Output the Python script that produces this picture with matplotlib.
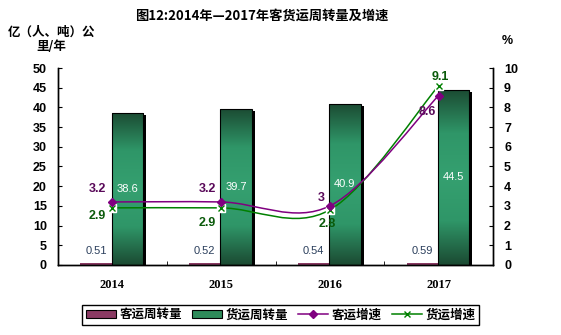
import numpy as np
import matplotlib
matplotlib.use('Agg')
import matplotlib.pyplot as plt
from matplotlib.path import Path
from matplotlib.patches import PathPatch, Patch
from matplotlib.lines import Line2D
from matplotlib.colors import LinearSegmentedColormap
import matplotlib.patheffects as pe

plt.rcParams['font.family'] = ['Noto Sans CJK SC', 'DejaVu Sans']

# 数据
years = ['2014', '2015', '2016', '2017']
passenger_turnover = [0.51, 0.52, 0.54, 0.59]   # 客运周转量
freight_turnover = [38.6, 39.7, 40.9, 44.5]     # 货运周转量
passenger_growth = [3.2, 3.2, 3.0, 8.6]         # 客运增速
freight_growth = [2.9, 2.9, 2.8, 9.1]           # 货运增速

# 标签偏移（单位 points）
pg_offsets = [(-11, 9), (-10, 9), (-6, 6), (-8, -12)]
fg_offsets = [(-11, -6), (-10, -11), (-2, -10), (1, 6)]

PURPLE = '#800080'
GREEN = '#008000'
MAROON = '#8a3a63'
BAR_GREEN = '#2e8b5a'


def smooth_path(xs, ys):
    """Excel 风格平滑曲线（Catmull-Rom 转三次贝塞尔）"""
    pts = np.column_stack([xs, ys]).astype(float)
    n = len(pts)
    verts = [pts[0]]
    codes = [Path.MOVETO]
    for i in range(n - 1):
        p0 = pts[max(i - 1, 0)]
        p1 = pts[i]
        p2 = pts[i + 1]
        p3 = pts[min(i + 2, n - 1)]
        c1 = p1 + (p2 - p0) / 6.0
        c2 = p2 - (p3 - p1) / 6.0
        verts += [c1, c2, p2]
        codes += [Path.CURVE4] * 3
    return Path(verts, codes)


def gradient_fill(ax, bars, cmap):
    grad = np.linspace(0, 1, 256).reshape(-1, 1)
    for b in bars:
        x0, y0 = b.get_x(), b.get_y()
        w, h = b.get_width(), b.get_height()
        im = ax.imshow(grad, cmap=cmap, aspect='auto',
                       extent=[x0, x0 + w, y0, y0 + h], origin='lower',
                       zorder=b.get_zorder() + 0.1)
        im.set_clip_path(b)
        # 描边
        ax.add_patch(plt.Rectangle((x0, y0), w, h, fill=False, edgecolor='black',
                                   linewidth=0.8, zorder=b.get_zorder() + 0.2))


fig = plt.figure(figsize=(5.61, 3.35), dpi=100)
ax = fig.add_axes([0.1034, 0.209, 0.7754, 0.588])
ax2 = ax.twinx()

x = np.arange(len(years))
bw = 0.29

green_cmap = LinearSegmentedColormap.from_list('g', ['#1b4a32', '#2f9668', '#35a070', '#2f9668', '#1b4a32'])

shadow = [pe.SimplePatchShadow(offset=(2.2, -1.5), shadow_rgbFace='black', alpha=1.0), pe.Normal()]
p_bars = ax.bar(x - 0.15, passenger_turnover, bw, color=MAROON, zorder=2)
f_bars = ax.bar(x + 0.138, freight_turnover, bw, color=BAR_GREEN, zorder=2, path_effects=shadow)
gradient_fill(ax, f_bars, green_cmap)

for b, v in zip(p_bars, passenger_turnover):
    ax.annotate(f'{v:.2f}', (b.get_x() + b.get_width() / 2, v), xytext=(0, 5),
                textcoords='offset points', ha='center', va='bottom',
                fontsize=8, color='#2b3f5c', family=['Liberation Sans'])
for b, v in zip(f_bars, freight_turnover):
    ax.text(b.get_x() + b.get_width() / 2, v / 2, f'{v}', ha='center', va='center',
            fontsize=8, color='white', family=['Liberation Sans'], zorder=5)

ax.set_xlim(-0.5, 3.5)
ax.set_ylim(0, 50)
ax.set_yticks(np.arange(0, 51, 5))
ax2.set_ylim(0, 10)
ax2.set_yticks(np.arange(0, 11, 1))

# 平滑折线
ax2.add_patch(PathPatch(smooth_path(x, freight_growth), fill=False, edgecolor=GREEN, lw=1.1, zorder=3))
ax2.add_patch(PathPatch(smooth_path(x, passenger_growth), fill=False, edgecolor=PURPLE, lw=1.1, zorder=3))
ax2.plot(x, freight_growth, linestyle='none', marker='s', markersize=6, markerfacecolor='white',
         markeredgecolor='white', zorder=4)
ax2.plot(x, freight_growth, linestyle='none', marker='x', markersize=5, color=GREEN, mew=1, zorder=5)
ax2.plot(x, passenger_growth, linestyle='none', marker='D', markersize=4.5, color=PURPLE, zorder=5)

for xi, v, off in zip(x, passenger_growth, pg_offsets):
    ax2.annotate(f'{v:g}', (xi, v), xytext=off, textcoords='offset points', ha='center', va='center',
                 fontsize=9, fontweight='bold', color='#5a0a5a', family=['Liberation Sans'])
for xi, v, off in zip(x, freight_growth, fg_offsets):
    ax2.annotate(f'{v:g}', (xi, v), xytext=off, textcoords='offset points', ha='center', va='center',
                 fontsize=9, fontweight='bold', color='#0a5a0a', family=['Liberation Sans'])

# 坐标轴样式
for a in (ax, ax2):
    a.spines['top'].set_visible(False)
    for s in ('left', 'right', 'bottom'):
        a.spines[s].set_linewidth(1.0)
ax.tick_params(axis='y', direction='in', length=3, labelsize=9, pad=8)
ax2.tick_params(axis='y', direction='in', length=3, labelsize=9, pad=8)
for lab in ax.get_yticklabels() + ax2.get_yticklabels():
    lab.set_fontweight('bold')
    lab.set_family(['Liberation Sans'])

ax.set_xticks(x)
ax.set_xticklabels(years, fontsize=9, fontweight='bold', family=['Liberation Serif'])
ax.tick_params(axis='x', which='major', length=0, pad=10)
ax.set_xticks([0.5, 1.5, 2.5], minor=True)
ax.tick_params(axis='x', which='minor', direction='in', length=3)

# 标题与轴标题
fig.text(0.467, 0.952, '图12:2014年—2017年客货运周转量及增速', ha='center', va='center',
         fontsize=9.5, fontweight='bold')
fig.text(0.091, 0.905, '亿（人、吨）公', ha='center', va='center', fontsize=9, fontweight='bold')
fig.text(0.091, 0.862, '里/年', ha='center', va='center', fontsize=9, fontweight='bold')
fig.text(0.905, 0.878, '%', ha='center', va='center', fontsize=9, fontweight='bold',
         family=['Liberation Sans'])

# 图例
handles = [
    Patch(facecolor=MAROON, edgecolor='black', linewidth=0.8, label='客运周转量'),
    Patch(facecolor=BAR_GREEN, edgecolor='black', linewidth=0.8, label='货运周转量'),
    Line2D([], [], color=PURPLE, marker='D', markersize=4.5, lw=1.1, label='客运增速'),
    Line2D([], [], color=GREEN, marker='x', markersize=4.5, lw=1.1, label='货运增速'),
]
leg = fig.legend(handles=handles, loc='center', bbox_to_anchor=(0.5, 0.06), ncol=4,
                 frameon=True, fancybox=False, edgecolor='black', framealpha=1,
                 prop={'size': 9, 'weight': 'bold'}, handlelength=2.4, handleheight=0.7,
                 handletextpad=0.3, columnspacing=0.8, borderpad=0.3, borderaxespad=0)
leg.get_frame().set_linewidth(1.0)

fig.savefig('out.png', dpi=100)
